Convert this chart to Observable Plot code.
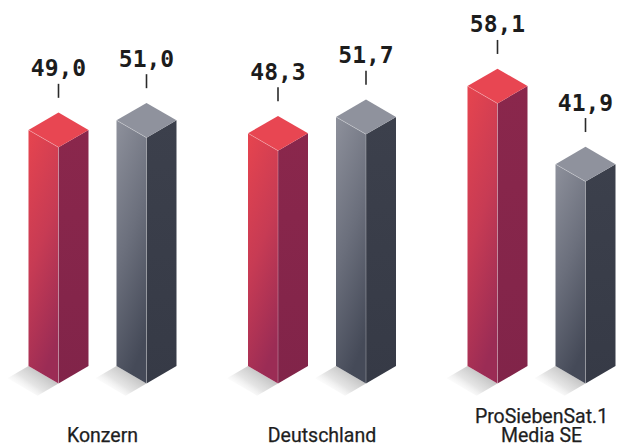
<!DOCTYPE html>
<html>
<head>
<meta charset="utf-8">
<script src="https://cdn.jsdelivr.net/npm/d3@7"></script>
<script src="https://cdn.jsdelivr.net/npm/@observablehq/plot@0.6"></script>
<style>
  html, body { margin: 0; padding: 0; background: #ffffff; }
  #chart svg { display: block; background: #ffffff; }
</style>
</head>
<body>
<div id="chart"></div>
<script>
// ---- data ----
const categories = ["Konzern", "Deutschland", "ProSiebenSat.1\nMedia SE"];
const seriesNames = ["Frauen", "Männer"];
const frauen = [49.0, 48.3, 58.1];
const maenner = [51.0, 51.7, 41.9];

// ---- geometry helpers (in data units of the Plot scales) ----
const X_PX = 219.5;                 // px per x unit (range/domain below)
const Y_PX = (383 - 93.8) / 60;     // px per y unit
const OFF = 44 / X_PX;              // bar offset from group centre
const H = 30 / X_PX;                // half width of a bar (x units)
const DY = 17.4 / Y_PX;             // isometric depth in y units

const bars = categories.flatMap((cat, i) => [
  {cat, i, series: seriesNames[0], value: frauen[i], c: i - OFF},
  {cat, i, series: seriesNames[1], value: maenner[i], c: i + OFF}
]);

function poly(face, b, k) {
  const c = b.c, v = b.value;
  const pts = {
    left:   [[c - H, DY], [c - H, v + DY], [c, v], [c, 0]],
    right:  [[c, 0], [c, v], [c + H, v + DY], [c + H, DY]],
    top:    [[c - H, v + DY], [c, v + 2 * DY], [c + H, v + DY], [c, v]],
    shadow: [[c - H, DY], [c, 0], [c - 0.7 * H, -0.7 * DY], [c - 1.7 * H, 0.3 * DY]],
    edge:   [[c - H, v + DY], [c, v], [c, 0]]
  }[face];
  return pts.map(([x, y]) => ({x, y, id: face + k, series: b.series}));
}
const faces = (face, series) =>
  bars.flatMap((b, k) => (series == null || b.series === series) ? poly(face, b, k) : []);

const fmt = v => v.toFixed(1).replace(".", ",");

const faceMark = (face, series, fill, extra = {}) =>
  Plot.line(faces(face, series), {x: "x", y: "y", z: "id", fill, stroke: "none", curve: "linear", ...extra});

const chart = Plot.plot({
  width: 621,
  height: 443,
  marginTop: 0, marginBottom: 0, marginLeft: 0, marginRight: 0,
  x: {domain: [0, 2], range: [102, 541], axis: null},
  y: {domain: [0, 60], range: [383, 93.8], axis: null},
  marks: [
    faceMark("shadow", null, "url(#gShadow)"),
    faceMark("left", "Frauen", "url(#gRedLeft)"),
    faceMark("right", "Frauen", "url(#gRedRight)"),
    faceMark("top", "Frauen", "#e84652"),
    faceMark("left", "Männer", "url(#gGreyLeft)"),
    faceMark("right", "Männer", "url(#gGreyRight)"),
    faceMark("top", "Männer", "#8f929d"),
    Plot.line(faces("edge", null), {x: "x", y: "y", z: "id", stroke: "#ffffff", strokeOpacity: 0.35, strokeWidth: 0.8, fill: "none"}),
    // value ticks and labels
    Plot.ruleX(bars, {x: "c", y1: "value", y2: d => d.value + 14 / Y_PX, dy: -49, stroke: "#2a2a2a", strokeWidth: 1.6}),
    Plot.text(bars, {x: "c", y: "value", text: d => fmt(d.value), dy: -71, lineAnchor: "bottom",
      fontFamily: "DejaVu Sans Mono", fontWeight: "bold", fontSize: 23, fill: "#1c1c1c"}),
    // category labels
    Plot.text(categories, {x: (d, i) => i, y: () => 0, text: d => d, dy: 58.8, lineAnchor: "bottom",
      lineHeight: 1, fontFamily: "Roboto", fontSize: 19.5, fill: "#1e1e1e", stroke: "#1e1e1e", strokeWidth: 0.25})
  ]
});

const defs = d3.select(chart).insert("defs", ":first-child");
function lin(id, stops, x1 = 0, y1 = 0, x2 = 0, y2 = 1) {
  const g = defs.append("linearGradient").attr("id", id)
    .attr("x1", x1).attr("y1", y1).attr("x2", x2).attr("y2", y2);
  stops.forEach(([o, c, op = 1]) => g.append("stop").attr("offset", o).attr("stop-color", c).attr("stop-opacity", op));
}
lin("gRedLeft", [[0, "#e5444f"], [0.5, "#c73b54"], [1, "#9b2c55"]], 0.1, 0, 0.4, 1);
lin("gRedRight", [[0, "#8a274c"], [1, "#812449"]]);
lin("gGreyLeft", [[0, "#8c8f9a"], [0.5, "#6b6f7c"], [1, "#454a58"]], 0.1, 0, 0.4, 1);
lin("gGreyRight", [[0, "#3c404c"], [1, "#363a46"]]);
lin("gShadow", [[0, "#bdbdbd", 1], [0.55, "#dedede", 0.8], [1, "#ffffff", 0]], 0.85, 0.3, 0.2, 0.85);

document.getElementById("chart").appendChild(chart);
</script>
</body>
</html>
